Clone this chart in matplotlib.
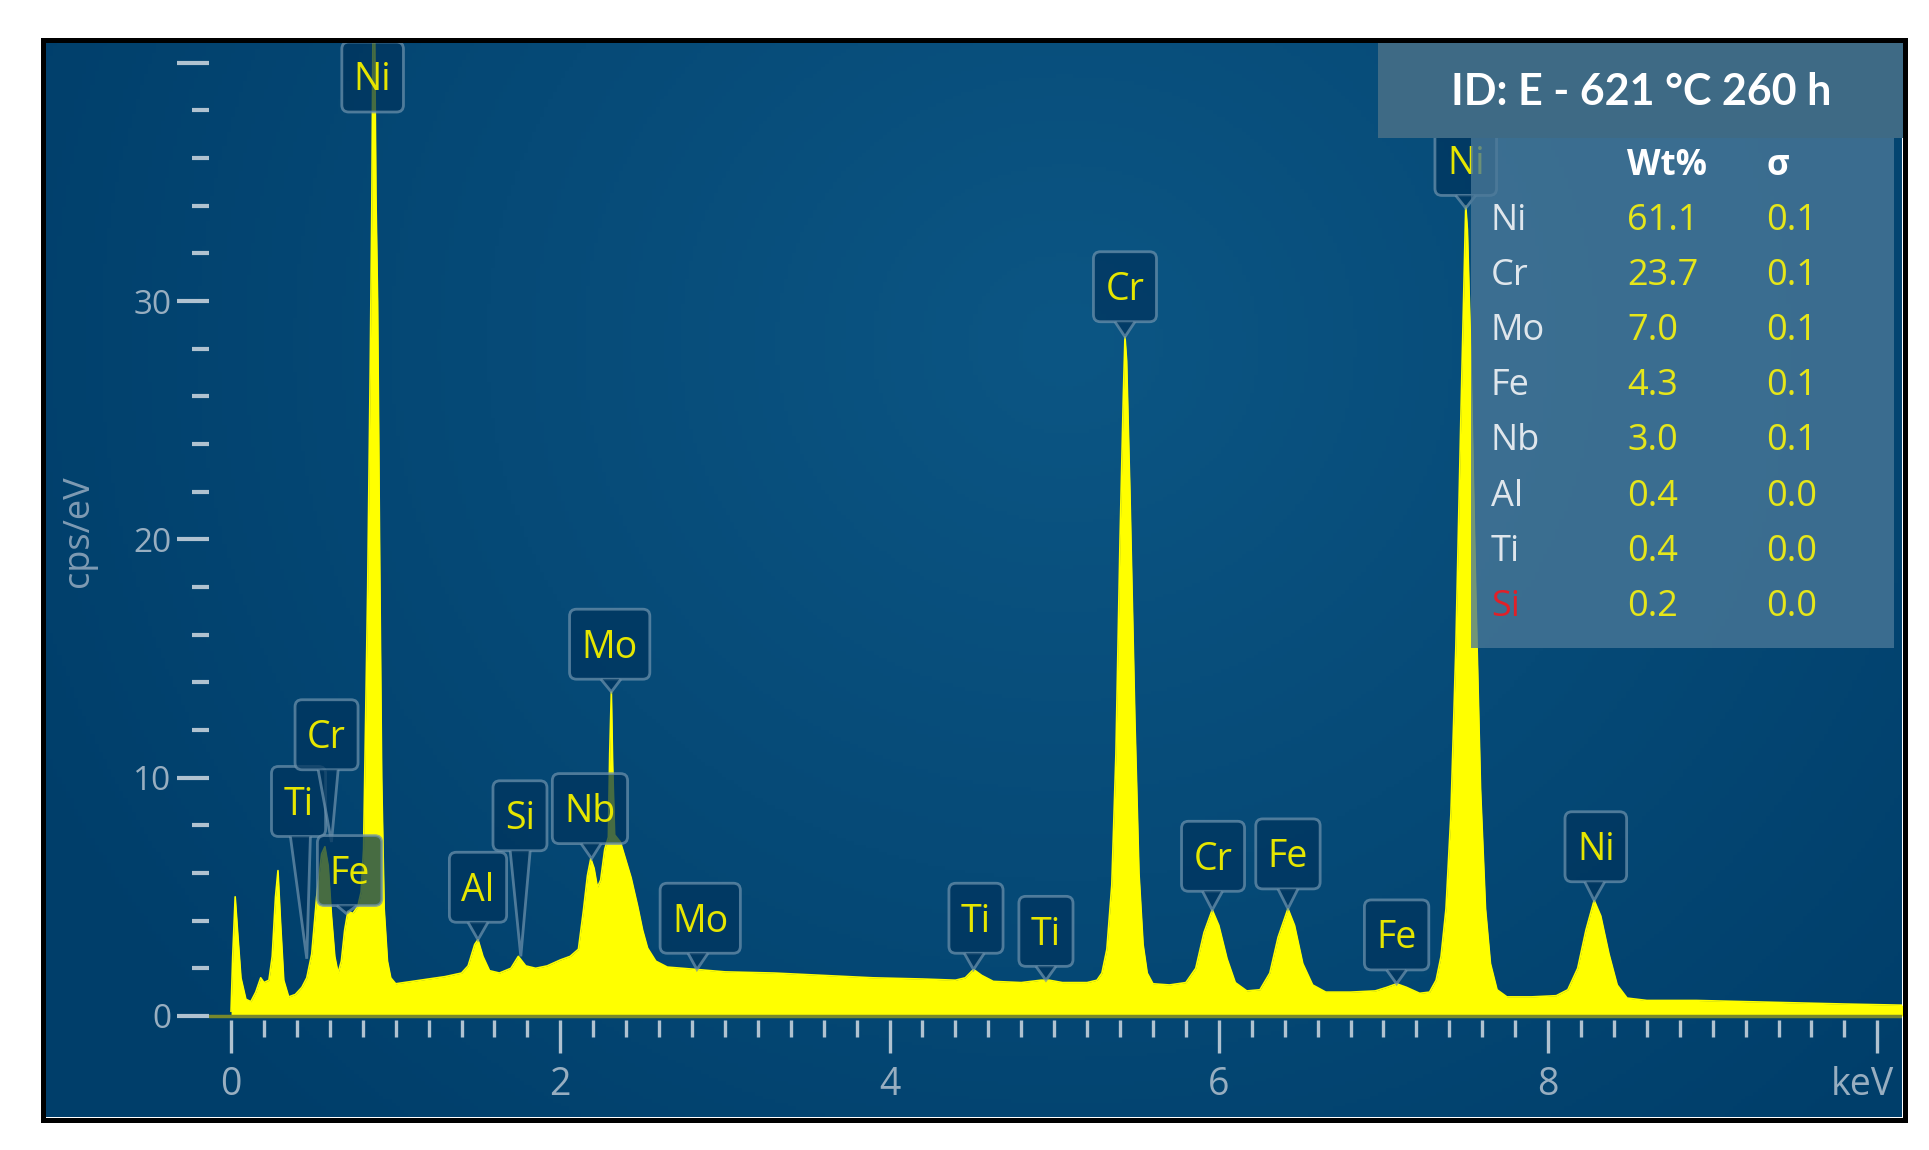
import numpy as np
import matplotlib
matplotlib.use("Agg")
import matplotlib.pyplot as plt
from matplotlib.patches import Rectangle, FancyBboxPatch, Polygon

# spectrum (keV, cps/eV)
energy = [0.00, 0.01, 0.025, 0.04, 0.06, 0.09, 0.12, 0.15, 0.18, 0.20, 0.23, 0.25, 0.27, 0.285,
          0.30, 0.32, 0.35, 0.39, 0.43, 0.46, 0.49, 0.52, 0.55, 0.57, 0.59, 0.61, 0.63, 0.65,
          0.67, 0.69, 0.71, 0.74, 0.77, 0.79, 0.805, 0.815, 0.83, 0.845, 0.855, 0.862, 0.872,
          0.88, 0.89, 0.903, 0.915, 0.93, 0.95, 0.97, 1.00, 1.10, 1.20, 1.30, 1.40, 1.44, 1.48,
          1.50, 1.53, 1.57, 1.63, 1.70, 1.745, 1.79, 1.85, 1.92, 2.00, 2.06, 2.11, 2.14, 2.165,
          2.185, 2.205, 2.225, 2.245, 2.27, 2.292, 2.30, 2.31, 2.318, 2.33, 2.365, 2.40, 2.43,
          2.47, 2.50, 2.53, 2.58, 2.65, 2.83, 3.00, 3.30, 3.60, 3.90, 4.20, 4.40, 4.46, 4.51,
          4.56, 4.63, 4.80, 4.92, 4.97, 5.05, 5.20, 5.26, 5.29, 5.32, 5.35, 5.375, 5.40, 5.42,
          5.43, 5.44, 5.46, 5.49, 5.515, 5.54, 5.565, 5.60, 5.70, 5.80, 5.86, 5.91, 5.96, 6.00,
          6.05, 6.10, 6.17, 6.25, 6.31, 6.36, 6.42, 6.46, 6.51, 6.57, 6.65, 6.80, 6.95, 7.02,
          7.08, 7.14, 7.22, 7.28, 7.32, 7.35, 7.38, 7.41, 7.44, 7.47, 7.49, 7.50, 7.51, 7.53,
          7.56, 7.59, 7.62, 7.65, 7.69, 7.75, 7.90, 8.05, 8.12, 8.18, 8.23, 8.28, 8.32, 8.37,
          8.42, 8.48, 8.60, 8.90, 9.20, 9.50, 9.80, 10.16]
counts = [0.2, 2.5, 5.0, 3.5, 1.6, 0.7, 0.6, 1.0, 1.6, 1.4, 1.5, 2.5, 5.0, 6.1,
          4.0, 1.5, 0.8, 0.9, 1.2, 1.6, 2.6, 5.0, 6.8, 7.1, 6.3, 4.2, 2.5, 1.8,
          2.3, 3.6, 4.4, 4.3, 4.6, 5.2, 7.0, 11.5, 18.0, 27.0, 34.0, 41.5, 41.5,
          34.5, 30.0, 19.0, 10.0, 4.5, 2.3, 1.6, 1.35, 1.45, 1.55, 1.65, 1.8, 2.1, 3.0,
          3.2, 2.5, 1.9, 1.8, 2.0, 2.5, 2.1, 2.0, 2.1, 2.35, 2.5, 2.8, 4.4, 5.9,
          6.6, 6.2, 5.4, 5.7, 7.0, 7.5, 11.0, 13.6, 10.5, 7.6, 7.3, 6.5, 5.8,
          4.6, 3.6, 2.85, 2.3, 2.05, 1.95, 1.85, 1.8, 1.7, 1.6, 1.55, 1.5, 1.6, 1.95,
          1.7, 1.45, 1.4, 1.5, 1.5, 1.4, 1.4, 1.5, 1.8, 2.8, 5.5, 11.0, 20.0, 26.0,
          28.5, 27.5, 22.0, 12.5, 6.0, 3.0, 1.8, 1.35, 1.3, 1.4, 2.0, 3.5, 4.45, 3.8,
          2.4, 1.4, 1.05, 1.1, 1.8, 3.3, 4.5, 3.8, 2.2, 1.3, 1.0, 1.0, 1.05, 1.2,
          1.35, 1.2, 0.95, 1.0, 1.5, 2.5, 4.5, 8.5, 15.5, 25.0, 31.0, 34.0, 33.0, 28.0,
          18.0, 9.5, 4.5, 2.2, 1.1, 0.8, 0.8, 0.85, 1.1, 2.0, 3.6, 4.85, 4.2, 2.6,
          1.3, 0.75, 0.65, 0.65, 0.6, 0.55, 0.5, 0.45]

# peak callouts: text, box centre, pointer tip
peak_text = ["Ni", "Ti", "Cr", "Fe", "Al", "Si", "Nb", "Mo", "Mo", "Ti", "Ti",
             "Cr", "Cr", "Fe", "Fe", "Ni", "Ni"]
text_x = [0.86, 0.41, 0.58, 0.72, 1.50, 1.755, 2.18, 2.30, 2.85, 4.525, 4.95,
          5.43, 5.965, 6.42, 7.08, 7.50, 8.29]
text_y = [39.4, 9.0, 11.8, 6.1, 5.4, 8.4, 8.7, 15.6, 4.1, 4.1, 3.55,
          30.6, 6.7, 6.8, 3.4, 35.9, 7.1]
tip_x = [None, 0.46, 0.61, 0.70, 1.50, 1.76, 2.19, 2.31, 2.83, 4.51, 4.95,
         5.43, 5.96, 6.42, 7.08, 7.50, 8.28]
tip_y = [None, 2.4, 7.3, 4.3, 3.2, 2.5, 6.6, 13.6, 1.95, 1.95, 1.5,
         28.5, 4.45, 4.5, 1.35, 33.9, 4.85]

# quantification table
elements = ["Ni", "Cr", "Mo", "Fe", "Nb", "Al", "Ti", "Si"]
wt_pct = ["61.1", "23.7", "7.0", "4.3", "3.0", "0.4", "0.4", "0.2"]
sigma = ["0.1", "0.1", "0.1", "0.1", "0.1", "0.0", "0.0", "0.0"]
title = "ID: E - 621 °C 260 h"

W, H = 1929, 1150
fig = plt.figure(figsize=(W / 100, H / 100), dpi=100, facecolor="white")

# blue background with soft glow
bg = fig.add_axes([45 / W, 1 - 1117 / H, (1902 - 45) / W, (1117 - 42) / H])
gy, gx = np.mgrid[0:1:300j, 0:1:450j]
d = np.sqrt(((gx - 0.55) * 1.6) ** 2 + (gy - 0.72) ** 2)
t = np.clip(d / 1.0, 0, 1)[..., None]
c_mid = np.array([12, 86, 132]) / 255
c_edge = np.array([0, 62, 106]) / 255
bg.imshow(c_mid * (1 - t) + c_edge * t, extent=[0, 1, 0, 1], origin="lower", aspect="auto")
bg.axis("off")

ax = fig.add_axes([209 / W, 1 - 1020 / H, (1902 - 209) / W, (1020 - 42) / H])
ax.set_facecolor("none")
ax.fill_between(energy, counts, 0, color="#ffff00", lw=0, zorder=2)
ax.plot(energy, counts, color="#ffff00", lw=1.2, zorder=2)
ax.axhline(0, color="#78882c", lw=2.5, zorder=3)
ax.set_xlim(-0.134, 10.15)
ax.set_ylim(-0.17, 40.87)
for s in ax.spines.values():
    s.set_visible(False)

tick_c = "#b0c2d0"
lab_c = "#98aec0"
ax.set_xticks([0, 2, 4, 6, 8, 10])
ax.set_xticklabels(["0", "2", "4", "6", "8", ""])
ax.set_xticks(np.arange(0, 10.01, 0.2), minor=True)
ax.set_yticks([0, 10, 20, 30, 40])
ax.set_yticklabels(["0", "10", "20", "30", ""])
ax.set_yticks(np.arange(0, 41, 2), minor=True)
ax.tick_params(axis="x", which="major", length=24, width=2.4, color=tick_c,
               labelcolor=lab_c, labelsize=27, pad=9)
ax.tick_params(axis="x", which="minor", length=12, width=2.4, color=tick_c)
ax.tick_params(axis="y", which="major", length=23, width=3, color=tick_c,
               labelcolor=lab_c, labelsize=24, pad=4)
ax.tick_params(axis="y", which="minor", length=12, width=3, color=tick_c)
for lab in ax.get_xticklabels() + ax.get_yticklabels():
    lab.set_family("Open Sans")
ax.set_ylabel("cps/eV", color="#7f9bb3", fontsize=26, family="Open Sans")
ax.yaxis.set_label_coords(-0.066, 0.50)

# overlay in pixel coordinates (y down) for callouts, table, banner, frame
ov = fig.add_axes([0, 0, 1, 1], zorder=10)
ov.set_xlim(0, W)
ov.set_ylim(H, 0)
ov.axis("off")
ov.patch.set_alpha(0)

fig.canvas.draw()
rend = fig.canvas.get_renderer()

box_fc = "#00345d"
box_ec = "#6d92ad"
fs = 27
cap = 0.714 * fs * 100 / 72
box_h = 70
for i in range(len(peak_text)):
    cx, cy = ax.transData.transform((text_x[i], text_y[i]))
    cy = H - cy
    txt = ov.text(cx, cy + cap / 2, peak_text[i], ha="center", va="baseline",
                  fontsize=fs, color="#e6e600", family="Open Sans", zorder=3)
    box_w = txt.get_window_extent(rend).width + 24
    ov.add_patch(FancyBboxPatch((cx - box_w / 2, cy - box_h / 2), box_w, box_h,
                                boxstyle="round,pad=0,rounding_size=7", fc=box_fc,
                                ec=box_ec, lw=2, alpha=0.72, zorder=2))
    if tip_x[i] is not None:
        tx, ty = ax.transData.transform((tip_x[i], tip_y[i]))
        ty = H - ty
        bottom = cy + box_h / 2
        bx = cx + (tx - cx) * (bottom - cy) / (ty - cy)
        ov.add_patch(Polygon([(bx - 10, bottom), (tx, ty), (bx + 10, bottom)], closed=False,
                             fc=box_fc, ec=box_ec, lw=2, alpha=0.72, zorder=2))

# "keV" in place of the 10 label
lb = ax.get_xticklabels()[0].get_window_extent(rend)
ov.text(1894, H - (lb.y0 + lb.y1) / 2, "keV", ha="right", va="center", fontsize=27,
        color=lab_c, family="Open Sans")

ov.add_patch(Rectangle((1471, 138), 1894 - 1471, 648 - 138, fc="#4a7898", ec="none",
                       alpha=0.78, zorder=4))
ov.add_patch(Rectangle((1378, 40), 1904 - 1378, 138 - 40, fc="#3e6a85", ec="none", zorder=5))
ov.text(1641, 92, title, ha="center", va="center", fontsize=31, color="white",
        family="Lato", fontweight="bold", zorder=6)

ov.text(1627, 166, "Wt%", ha="left", va="center", fontsize=25, color="white",
        family="Open Sans", fontweight="bold", zorder=6)
ov.text(1766, 166, "σ", ha="left", va="center", fontsize=25, color="white",
        family="Open Sans", fontweight="bold", zorder=6)
for i, el in enumerate(elements):
    yy = 221 + i * 55.1
    ov.text(1491, yy, el, ha="left", va="center", fontsize=26,
            color="#e02028" if el == "Si" else "#dfe6ec", family="Open Sans", zorder=6)
    ov.text(1627, yy, wt_pct[i], ha="left", va="center", fontsize=26,
            color="#e6e61a", family="Open Sans", zorder=6)
    ov.text(1766, yy, sigma[i], ha="left", va="center", fontsize=26,
            color="#e6e61a", family="Open Sans", zorder=6)

ov.add_patch(Rectangle((42.5, 39.5), 1904.5 - 42.5, 1119.5 - 39.5, fill=False,
                       ec="black", lw=3.6, zorder=7))

fig.savefig("out.png", dpi=100, facecolor="white")
